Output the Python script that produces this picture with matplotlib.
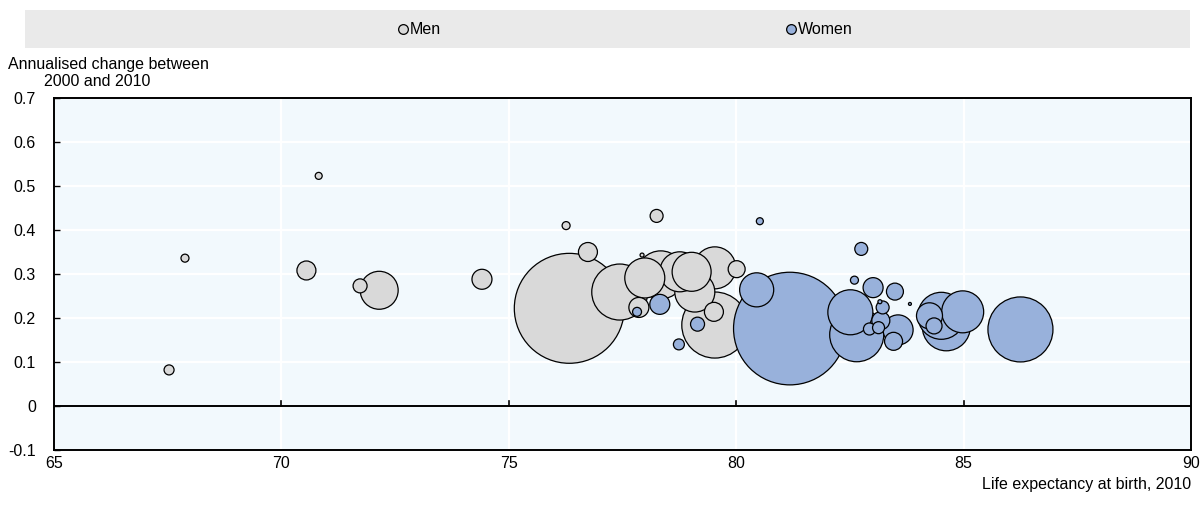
import numpy as np
import matplotlib
matplotlib.use("Agg")
import matplotlib.pyplot as plt
from matplotlib.patches import Rectangle
from matplotlib.lines import Line2D
import matplotlib.transforms as mtransforms

plt.rcParams['font.family'] = ['Liberation Sans', 'DejaVu Sans']

# ---- data ----
men_life = [67.53, 67.88, 70.82, 70.55, 71.73, 72.15, 74.41, 76.26, 78.25, 76.74,
            76.33, 77.44, 77.99, 78.34, 77.93, 77.86, 79.02, 79.53, 78.76, 79.09,
            80.01, 79.53, 79.51]
men_change = [0.082, 0.336, 0.523, 0.308, 0.273, 0.263, 0.288, 0.410, 0.432, 0.350,
              0.222, 0.259, 0.291, 0.298, 0.343, 0.224, 0.305, 0.314, 0.305, 0.259,
              0.311, 0.184, 0.214]
men_pop = [1.25, 0.8, 0.61, 4.5, 2.45, 18.0, 5.0, 0.8, 2.1, 4.5,
           151.0, 39.2, 20.0, 28.8, 0.2, 5.0, 19.0, 22.0, 20.0, 20.0,
           3.6, 54.5, 4.5]

women_life = [80.52, 77.82, 78.32, 79.15, 78.74, 81.18, 80.45, 82.75, 82.60, 83.01,
              83.49, 83.82, 82.51, 82.65, 83.16, 83.22, 83.56, 83.46, 83.13, 82.93,
              83.18, 84.51, 84.62, 84.98, 84.35, 84.25, 86.25]
women_change = [0.420, 0.214, 0.231, 0.186, 0.140, 0.176, 0.264, 0.357, 0.286, 0.269,
                0.260, 0.232, 0.213, 0.162, 0.237, 0.224, 0.173, 0.147, 0.178, 0.175,
                0.194, 0.205, 0.180, 0.214, 0.182, 0.205, 0.174]
women_pop = [0.61, 1.0, 5.0, 2.45, 1.5, 158.5, 14.5, 2.1, 0.8, 5.0,
             3.6, 0.11, 25.3, 36.5, 0.2, 2.1, 11.25, 4.05, 1.8, 1.8,
             4.05, 27.6, 28.8, 22.0, 3.2, 8.45, 52.8]

x_ticks = [65, 70, 75, 80, 85, 90]
y_ticks = [-0.1, 0, 0.1, 0.2, 0.3, 0.4, 0.5, 0.6, 0.7]
y_tick_labels = ["-0.1", "0", "0.1", "0.2", "0.3", "0.4", "0.5", "0.6", "0.7"]

MEN_COLOR = "#d9d9d9"
WOMEN_COLOR = "#98b1db"
BG = "#f2f9fd"
SIZE_SCALE = 41.5  # points^2 per million

W, H = 1202, 513
fig = plt.figure(figsize=(W / 100, H / 100), dpi=100)
ax = fig.add_axes([54 / W, 1 - 450 / H, (1191 - 54) / W, (450 - 98) / H])
ax.set_facecolor(BG)

ax.set_xlim(65, 90)
ax.set_ylim(-0.1, 0.7)

# grid
for yv in y_ticks:
    ax.axhline(yv, color="white", lw=1.6, zorder=0.5)
for xv in x_ticks[1:-1]:
    ax.axvline(xv, color="white", lw=1.6, zorder=0.5)
ax.axhline(0, color="black", lw=1.4, zorder=1)

# small x ticks standing on the zero line
trans = mtransforms.blended_transform_factory(ax.transData, ax.transData)
for xv in x_ticks[1:-1]:
    ax.plot([xv, xv], [0, 0.012], color="black", lw=1.2, zorder=1, transform=trans)


def bubbles(xs, ys, pops, color):
    xs = np.asarray(xs); ys = np.asarray(ys); pops = np.asarray(pops)
    order = np.argsort(-pops)
    ax.scatter(xs[order], ys[order], s=pops[order] * SIZE_SCALE, c=color,
               edgecolors="black", linewidths=0.9, zorder=3)


bubbles(men_life, men_change, men_pop, MEN_COLOR)
bubbles(women_life, women_change, women_pop, WOMEN_COLOR)

for sp in ax.spines.values():
    sp.set_color("black")
    sp.set_linewidth(1.4)

ax.set_xticks(x_ticks)
ax.set_xticklabels([str(v) for v in x_ticks])
ax.set_yticks(y_ticks)
ax.set_yticklabels(y_tick_labels)
ax.tick_params(axis="x", length=0, pad=4, labelsize=11.5)
ax.tick_params(axis="y", direction="in", length=4, width=1, pad=13, labelsize=11.5)

fig.text(1191 / W, 1 - 485 / H, "Life expectancy at birth, 2010",
         ha="right", va="center", fontsize=11.5)

fig.text(8 / W, 1 - 65 / H, "Annualised change between", ha="left", va="center", fontsize=11.5)
fig.text(44 / W, 1 - 82 / H, "2000 and 2010", ha="left", va="center", fontsize=11.5)

# legend band
fig.add_artist(Rectangle((25 / W, 1 - 48 / H), (1190 - 25) / W, 38 / H,
                         transform=fig.transFigure, facecolor="#eaeaea",
                         edgecolor="none", zorder=0))
leg_y = 1 - 29 / H
for mx, col, lab in [(403, MEN_COLOR, "Men"), (791, WOMEN_COLOR, "Women")]:
    fig.add_artist(Line2D([mx / W], [leg_y], marker="o", markersize=7,
                          markerfacecolor=col, markeredgecolor="black",
                          markeredgewidth=0.9, linestyle="none",
                          transform=fig.transFigure))
    fig.text((mx + 7) / W, leg_y, lab, ha="left", va="center", fontsize=11.5)

fig.savefig("out.png", dpi=100, facecolor="white")
